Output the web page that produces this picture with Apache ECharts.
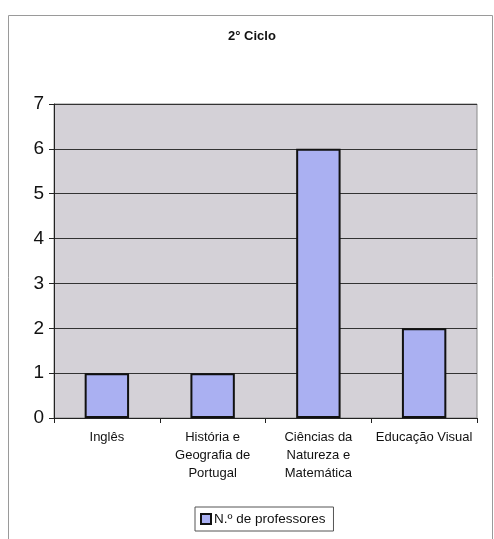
<!DOCTYPE html>
<html>
<head>
<meta charset="utf-8">
<script src="https://cdn.jsdelivr.net/npm/echarts@6/dist/echarts.min.js"></script>
<style>
  html, body { margin: 0; padding: 0; background: #ffffff; }
  #chart { width: 494px; height: 539px; }
</style>
</head>
<body>
<div id="chart"></div>
<script>
// Subject areas (category axis)
var categories = [
  'Inglês',
  'História e\nGeografia de\nPortugal',
  'Ciências da\nNatureza e\nMatemática',
  'Educação Visual'
];
// Number of teachers per subject area
var professores = [1, 1, 6, 2];
// Value axis range
var yMin = 0;
var yMax = 7;
var yStep = 1;

var chart = echarts.init(document.getElementById('chart'));
chart.setOption({
  animation: false,
  backgroundColor: '#ffffff',
  textStyle: { fontFamily: 'Liberation Sans, Arial, sans-serif' },
  title: {
    text: '2° Ciclo',
    left: 228,
    top: 30,
    padding: 0,
    textStyle: { fontSize: 13, fontWeight: 'bold', color: '#111' }
  },
  graphic: [{
    type: 'rect',
    silent: true,
    shape: { x: 8.5, y: 15.5, width: 484, height: 540 },
    style: { fill: 'none', stroke: '#9a9a9a', lineWidth: 1 }
  }],
  grid: {
    left: 54, right: 17, top: 104, bottom: 121,
    show: true,
    backgroundColor: '#d4d1d7',
    borderColor: '#8a8a8a',
    borderWidth: 1
  },
  legend: {
    left: 195,
    top: 507,
    data: ['N.º de professores'],
    icon: 'rect',
    itemWidth: 10,
    itemHeight: 10,
    itemGap: 4,
    padding: [5, 8, 5, 5],
    borderColor: '#555',
    borderWidth: 1,
    textStyle: { fontSize: 13.5, color: '#111', padding: [0, 0, 0, -2] }
  },
  xAxis: {
    type: 'category',
    data: categories,
    axisLine: { lineStyle: { color: '#222', width: 1 } },
    axisTick: { show: true, length: 5, lineStyle: { color: '#222' } },
    axisLabel: {
      interval: 0,
      fontSize: 13,
      lineHeight: 18,
      color: '#111',
      margin: 10
    }
  },
  yAxis: {
    type: 'value',
    min: yMin,
    max: yMax,
    interval: yStep,
    axisLine: { show: true, lineStyle: { color: '#222', width: 1 } },
    axisTick: { show: true, length: 5, lineStyle: { color: '#222' } },
    axisLabel: { fontSize: 19, color: '#111', margin: 10 },
    splitLine: { show: true, lineStyle: { color: '#333', width: 1 } }
  },
  series: [{
    name: 'N.º de professores',
    type: 'bar',
    data: professores,
    barCategoryGap: '58%',
    itemStyle: { color: '#aab0f2', borderColor: '#111', borderWidth: 2 }
  }]
});
</script>
</body>
</html>
